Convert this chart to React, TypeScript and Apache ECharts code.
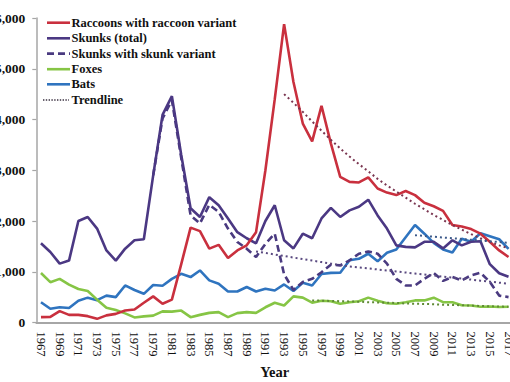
import React, { useEffect, useRef } from "react";
import * as echarts from "echarts";

const years = [
  "1967","1968","1969","1970","1971","1972","1973","1974","1975","1976",
  "1977","1978","1979","1980","1981","1982","1983","1984","1985","1986",
  "1987","1988","1989","1990","1991","1992","1993","1994","1995","1996",
  "1997","1998","1999","2000","2001","2002","2003","2004","2005","2006",
  "2007","2008","2009","2010","2011","2012","2013","2014","2015","2016","2017",
];

const raccoons = [
  105, 110, 225, 150, 150, 125, 72, 140, 170, 235, 255, 390, 515,
  370, 450, 1150, 1870, 1800, 1455, 1530, 1270, 1420, 1520,
  1780, 3000, 4400, 5880, 4740, 3920, 3570, 4270, 3530, 2870,
  2770, 2760, 2860, 2640, 2560, 2510, 2590, 2510, 2360, 2290,
  2200, 1920, 1890, 1840, 1750, 1590, 1420, 1290,
];

const skunksTotal = [
  1560, 1390, 1160, 1220, 2000, 2080, 1850, 1420, 1220, 1455, 1620, 1640, 2900,
  4090, 4460, 3300, 2250, 2080, 2470, 2310, 2050, 1780, 1660,
  1560, 2000, 2310, 1620, 1460, 1750, 1660, 2050, 2260, 2080,
  2210, 2280, 2420, 2110, 1850, 1520, 1490, 1480, 1590, 1590,
  1460, 1620, 1520, 1590, 1600, 1150, 970, 900,
];

// skunk variant, starting 1979
const skunkVariantStart = "1979";
const skunkVariant = [
  2900, 4020, 4380, 3240, 2110, 1950, 2320, 2180, 1850, 1585, 1455,
  1290, 1550, 1750, 950, 640, 800, 860, 990, 1140, 1125,
  1225, 1355, 1400, 1355, 1160, 860, 730, 730, 860, 975,
  820, 895, 830, 930, 980, 800, 530, 500,
];

const foxes = [
  975, 795, 860, 745, 660, 620, 450, 290, 245, 180, 100, 120, 135,
  220, 215, 235, 105, 150, 190, 205, 105, 185, 205,
  190, 300, 390, 335, 515, 490, 390, 430, 420, 370,
  400, 420, 490, 430, 380, 370, 400, 435, 435, 490,
  400, 400, 340, 335, 310, 315, 305, 310,
];

const bats = [
  400, 270, 300, 285, 430, 490, 440, 530, 500, 730, 640, 565, 740,
  725, 860, 960, 895, 1025, 830, 765, 610, 610, 700,
  610, 665, 630, 750, 620, 785, 730, 955, 978, 980,
  1225, 1255, 1355, 1205, 1375, 1440, 1680, 1920, 1750, 1570,
  1440, 1380, 1650, 1590, 1760, 1700, 1640, 1450,
];

const raccoonTrendStart = "1993";
const raccoonTrend = [
  4500, 4330, 4150, 3960, 3780, 3600, 3430, 3270, 3120, 2980,
  2830, 2700, 2580, 2460, 2340, 2230, 2120, 2020, 1920, 1830,
  1740, 1660, 1590, 1520, 1460,
];

const skunkTrendStart = "1990";
const skunkTrend = [
  1400, 1370, 1340, 1310, 1280, 1250, 1220, 1190, 1160, 1130,
  1105, 1085, 1065, 1045, 1025, 1005, 985, 965, 945, 925,
  905, 885, 865, 845, 825, 805, 785, 765,
];

const batTrendStart = "2007";
const batTrend = [1720, 1705, 1690, 1675, 1660, 1645, 1630, 1615, 1600, 1585, 1570];

const foxTrendStart = "1996";
const foxTrend = [
  435, 430, 425, 420, 415, 410, 400, 395, 390, 385, 375,
  370, 365, 360, 350, 345, 340, 335, 325, 320, 315, 310,
];

const yTicks = [0, 1000, 2000, 3000, 4000, 5000, 6000];

const legendNames = [
  "Raccoons with raccoon variant",
  "Skunks (total)",
  "Skunks with skunk variant",
  "Foxes",
  "Bats",
  "Trendline",
];

const FONT = "'Liberation Serif', 'Times New Roman', serif";

const C_RACCOON = "#c9303e";
const C_SKUNK = "#4b3883";
const C_SKUNKV = "#4a3a80";
const C_FOX = "#86c545";
const C_BAT = "#2f74bf";
const C_TREND = "#3a3040";

function pad(start: string, vals: number[]) {
  const idx = years.indexOf(start);
  const out: (number | null)[] = [];
  for (let i = 0; i < years.length; i++) {
    const j = i - idx;
    out.push(j >= 0 && j < vals.length ? vals[j] : null);
  }
  return out;
}

export default function App() {
  const ref = useRef<HTMLDivElement>(null);

  useEffect(() => {
    if (!ref.current) return;
    const chart = echarts.init(ref.current, null, { renderer: "svg" });

    const lineW = 2.6;
    const mk = (name: string, data: any[], color: string, type: any = "solid", width = lineW, z = 2) => ({
      name,
      type: "line",
      data,
      symbol: "none",
      showSymbol: false,
      connectNulls: false,
      silent: true,
      z,
      itemStyle: { color },
      lineStyle: { color, width, type, cap: "butt" },
      emphasis: { disabled: true },
    });

    // legend drawn as graphic (line sample + text)
    const legendStyles = [
      { stroke: C_RACCOON, lineWidth: 2.6, lineDash: null as any, x1: 67, x2: 90 },
      { stroke: C_SKUNK, lineWidth: 2.6, lineDash: null as any, x1: 67, x2: 90 },
      { stroke: C_SKUNKV, lineWidth: 2.6, lineDash: [7, 4], x1: 67, x2: 90 },
      { stroke: C_FOX, lineWidth: 2.6, lineDash: null as any, x1: 67, x2: 90 },
      { stroke: C_BAT, lineWidth: 2.6, lineDash: null as any, x1: 67, x2: 90 },
      { stroke: C_TREND, lineWidth: 1.4, lineDash: [1.4, 1.4], x1: 63, x2: 89 },
    ];
    const rowY = [22.7, 38.3, 53.6, 69.2, 84.3, 100];
    const graphics: any[] = [];
    legendNames.forEach((name, i) => {
      const s = legendStyles[i];
      graphics.push({
        type: "line",
        silent: true,
        shape: { x1: s.x1, y1: rowY[i], x2: s.x2, y2: rowY[i] },
        style: { stroke: s.stroke, lineWidth: s.lineWidth, lineDash: s.lineDash },
      });
      graphics.push({
        type: "text",
        silent: true,
        x: 91.5,
        y: rowY[i],
        style: {
          text: name,
          fill: "#111",
          fontFamily: FONT,
          fontWeight: "bold",
          fontSize: 12.5,
          verticalAlign: "middle",
          align: "left",
        },
      });
    });

    chart.setOption({
      animation: false,
      backgroundColor: "#ffffff",
      grid: {
        left: 56.3,
        right: 6.8,
        top: 18,
        bottom: 59.5,
        containLabel: false,
        outerBoundsMode: "none",
      },
      graphic: graphics,
      xAxis: {
        type: "category",
        data: years,
        boundaryGap: true,
        name: "Year",
        nameLocation: "middle",
        nameGap: 31,
        nameTextStyle: {
          fontFamily: FONT,
          fontWeight: "bold",
          fontSize: 14.5,
          color: "#111",
        },
        axisLine: { show: true, lineStyle: { color: "#a6a6a6", width: 1.8 } },
        axisTick: { show: false },
        axisLabel: {
          interval: 1,
          rotate: -90,
          margin: 9,
          fontFamily: FONT,
          fontSize: 12.5,
          color: "#111",
        },
        splitLine: { show: false },
      },
      yAxis: {
        type: "value",
        min: yTicks[0],
        max: yTicks[yTicks.length - 1],
        interval: 1000,
        axisLine: { show: true, lineStyle: { color: "#a6a6a6", width: 1.5 } },
        axisTick: { show: true, length: 4, lineStyle: { color: "#a6a6a6", width: 1.2 } },
        axisLabel: {
          margin: 11,
          fontFamily: FONT,
          fontWeight: "bold",
          fontSize: 13.5,
          color: "#111",
          formatter: (v: number) => v.toLocaleString("en-US"),
        },
        splitLine: { show: false },
      },
      series: [
        mk("Bats", bats, C_BAT),
        mk("Foxes", foxes, C_FOX),
        mk("Skunks with skunk variant", pad(skunkVariantStart, skunkVariant), C_SKUNKV, [7, 4]),
        mk("Skunks (total)", skunksTotal, C_SKUNK),
        mk("Raccoons with raccoon variant", raccoons, C_RACCOON),
        mk("Trendline", pad(raccoonTrendStart, raccoonTrend), "#7a3550", [2, 3], 2, 3),
        mk("Trendline", pad(skunkTrendStart, skunkTrend), "#5a4a80", [2, 3], 2, 3),
        mk("Trendline", pad(batTrendStart, batTrend), "#3d5a8a", [2, 3], 2, 3),
        mk("Trendline", pad(foxTrendStart, foxTrend), "#5f8a35", [2, 3], 2, 3),
      ],
    });

    return () => chart.dispose();
  }, []);

  return (
    <div
      style={{
        position: "fixed",
        left: 0,
        top: 0,
        width: 510,
        height: 382,
        overflow: "hidden",
        background: "#fff",
      }}
    >
      <div
        ref={ref}
        style={{ position: "absolute", left: -20, top: 0, width: 540, height: 382 }}
      />
    </div>
  );
}
